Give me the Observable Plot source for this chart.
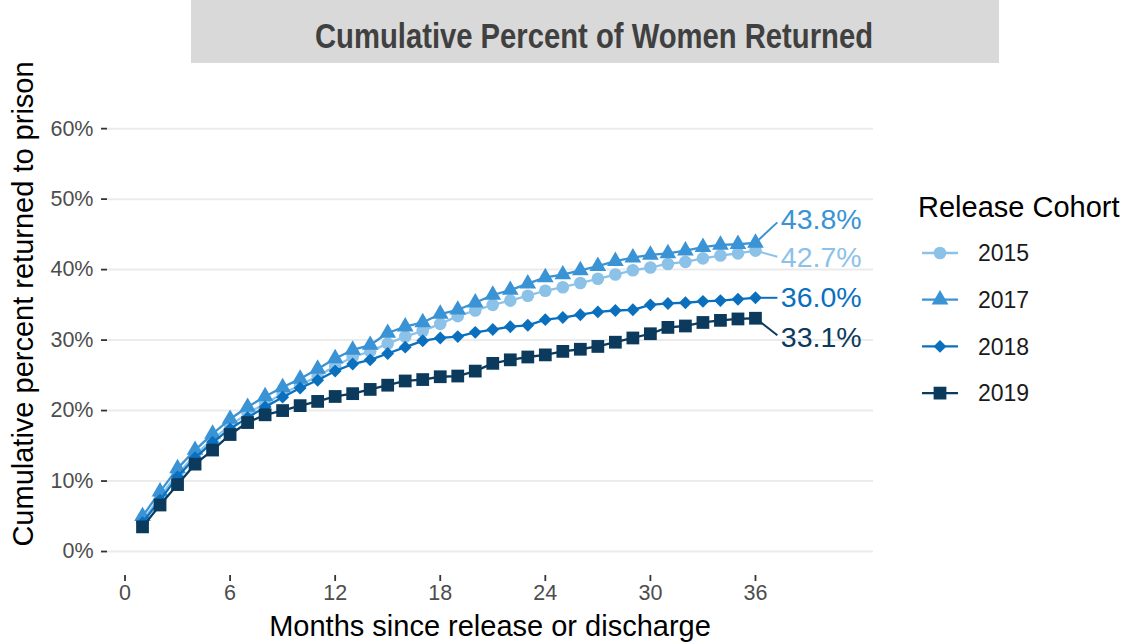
<!DOCTYPE html>
<html><head><meta charset="utf-8">
<script src="https://cdn.jsdelivr.net/npm/d3@7"></script>
<script src="https://cdn.jsdelivr.net/npm/@observablehq/plot@0.6"></script>
<style>
body{margin:0;background:#fff;}
#wrap{position:relative;width:1127px;height:644px;overflow:hidden;font-family:"Liberation Sans",Arial,sans-serif;}
#wrap > svg{position:absolute;left:0;top:0;}
</style></head><body><div id="wrap"></div>
<script>
// ---- data ----
const titleText = "Cumulative Percent of Women Returned";
const xTitle = "Months since release or discharge";
const yTitle = "Cumulative percent returned to prison";
const legendTitle = "Release Cohort";
const cohorts = ["2015", "2017", "2018", "2019"];
const months = [1,2,3,4,5,6,7,8,9,10,11,12,13,14,15,16,17,18,19,20,21,22,23,24,25,26,27,28,29,30,31,32,33,34,35,36];
const r2015 = [4.3,7.8,11.0,13.7,15.9,17.9,19.6,21.0,22.4,23.6,24.9,26.3,27.6,28.4,29.5,30.5,31.3,32.3,33.4,34.2,35.0,35.6,36.3,37.0,37.5,38.1,38.7,39.3,39.9,40.3,40.8,41.1,41.6,42.0,42.3,42.7];
const r2017 = [5.0,8.5,11.8,14.4,16.7,18.8,20.5,22.0,23.3,24.5,25.9,27.4,28.6,29.3,31.0,31.9,32.5,33.7,34.3,35.3,36.4,37.1,38.0,38.9,39.3,39.9,40.5,41.2,41.7,42.1,42.3,42.7,43.2,43.5,43.6,43.8];
const r2018 = [4.1,7.3,10.6,13.3,15.5,17.4,19.0,20.5,21.9,23.2,24.3,25.6,26.6,27.2,28.1,29.0,29.9,30.3,30.5,31.1,31.5,31.9,32.1,32.9,33.2,33.6,34.0,34.2,34.3,35.0,35.2,35.3,35.5,35.6,35.8,36.0];
const r2019 = [3.5,6.6,9.5,12.4,14.4,16.6,18.3,19.4,20.0,20.7,21.3,22.0,22.4,23.0,23.6,24.2,24.4,24.8,24.9,25.6,26.7,27.2,27.6,27.9,28.4,28.7,29.1,29.7,30.3,30.9,31.8,32.0,32.5,32.8,33.0,33.1];
const xTicks = [0, 6, 12, 18, 24, 30, 36];
const yTicks = [0, 10, 20, 30, 40, 50, 60];

// ---- build ----
const series = [r2015, r2017, r2018, r2019];
const colors = ["#8CC2E8", "#3A93D4", "#0A70BE", "#0B3A5C"];
const symbols = ["circle", "triangle", "diamond2", "square"];
const radii = [6.3, 6.2, 5.8, 7.2];
const nudges = [-1.0, 3.3, 0, -2.75];
const symTypes = [d3.symbolCircle, d3.symbolTriangle, d3.symbolDiamond2, d3.symbolSquare];

const rows = cohorts.map((c, i) => series[i].map((v, j) => ({cohort: c, month: months[j], value: v})));
const lastRows = rows.map(r => r[r.length - 1]);

const W = 1127, H = 644;
const marks = [
  Plot.gridY(yTicks, {stroke: "#EBEBEB", strokeWidth: 2, strokeOpacity: 1}),
  Plot.axisY(yTicks, {tickFormat: d => d + "%", tickSize: 6, tickPadding: 8, fontSize: 21.5, fill: "#4D4D4D", stroke: "#333333", strokeWidth: 1.8, label: null}),
  Plot.axisX(xTicks, {tickSize: 6, tickPadding: 3, fontSize: 21.5, fill: "#4D4D4D", stroke: "#333333", strokeWidth: 1.8, label: null})
];
cohorts.forEach((c, i) => {
  marks.push(Plot.line(rows[i], {x: "month", y: "value", stroke: colors[i], strokeWidth: 2.3}));
  marks.push(Plot.dot(rows[i], {x: "month", y: "value", symbol: symbols[i], r: radii[i], fill: colors[i], stroke: "none"}));
});
cohorts.forEach((c, i) => {
  const d = [lastRows[i]];
  marks.push(Plot.link(d, {x1: "month", y1: "value", x2: () => 37.25, y2: r => r.value + nudges[i] * 0.88, stroke: colors[i], strokeWidth: 2}));
  marks.push(Plot.text(d, {x: () => 37.45, y: r => r.value + nudges[i], text: r => r.value.toFixed(1) + "%", fill: colors[i], fontSize: 28.5, textAnchor: "start"}));
});

const svg = Plot.plot({
  width: W, height: H,
  marginLeft: 107, marginRight: W - 873, marginTop: 107, marginBottom: H - 575,
  x: {domain: [-1.0, 42.74]},
  y: {domain: [-3.4, 63]},
  style: {fontFamily: "'Liberation Sans', Arial, sans-serif", background: "transparent", overflow: "visible"},
  marks
});
const wrap = document.getElementById("wrap");
wrap.appendChild(svg);

const s = d3.select(svg);
// enlarge tick label text (integer labels, with or without %)
s.selectAll("text").each(function () {
  const txt = (this.textContent || "").trim();
  if (/^\d+%?$/.test(txt)) {
    this.style.fontSize = "21.5px";
    this.setAttribute("font-size", "21.5");
  }
});

s.append("text").attr("transform", "translate(33,304) rotate(-90)").attr("text-anchor", "middle")
  .attr("font-size", 29).attr("fill", "#000").text(yTitle);
s.append("text").attr("x", 490).attr("y", 636).attr("text-anchor", "middle")
  .attr("font-size", 29).attr("fill", "#000").text(xTitle);

// title
const t = d3.select(wrap).append("svg").attr("width", W).attr("height", 70);
t.append("rect").attr("x", 191).attr("y", 0).attr("width", 808).attr("height", 63).attr("fill", "#D9D9D9");
t.append("text").attr("x", 315).attr("y", 48).attr("textLength", 558).attr("lengthAdjust", "spacingAndGlyphs")
  .attr("font-family", "'Liberation Sans Narrow','Liberation Sans',Arial,sans-serif").attr("font-weight", "bold")
  .attr("font-size", 35).attr("fill", "#404040").text(titleText);

// legend
const lg = d3.select(wrap).append("svg").attr("width", W).attr("height", H).style("pointer-events", "none");
lg.append("text").attr("x", 918).attr("y", 217).attr("font-size", 29).attr("fill", "#000").text(legendTitle);
cohorts.forEach((c, i) => {
  const y = 253 + 46.7 * i;
  lg.append("line").attr("x1", 922).attr("x2", 958).attr("y1", y).attr("y2", y).attr("stroke", colors[i]).attr("stroke-width", 2.3);
  lg.append("path").attr("transform", `translate(940,${y})`)
    .attr("d", d3.symbol().type(symTypes[i]).size(Math.PI * radii[i] * radii[i])()).attr("fill", colors[i]);
  lg.append("text").attr("x", 978).attr("y", y + 8.3).attr("font-size", 23).attr("fill", "#1A1A1A").text(c);
});
</script></body></html>
